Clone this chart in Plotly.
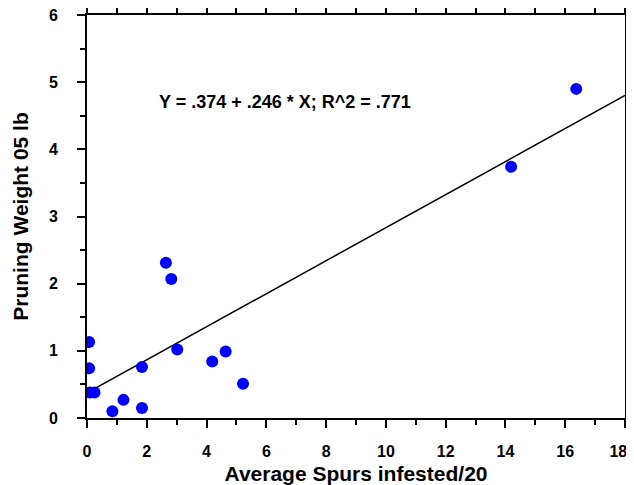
import plotly.graph_objects as go

spurs = [0.07, 0.07, 0.1, 0.25, 0.85, 1.22, 1.84, 1.84, 2.64, 2.82, 3.02, 4.19, 4.64, 5.22, 14.19, 16.37]
weight = [1.13, 0.74, 0.38, 0.38, 0.10, 0.27, 0.15, 0.76, 2.31, 2.07, 1.02, 0.84, 0.99, 0.51, 3.74, 4.90]
intercept = 0.374
slope = 0.246
fit_x = [0, 18]
fit_y = [intercept + slope * v for v in fit_x]
equation = "Y = .374 + .246 * X; R^2 = .771"
x_ticks = list(range(0, 19, 2))
y_ticks = list(range(0, 7))

font = "Liberation Sans, Arial, sans-serif"

fig = go.Figure()
fig.add_trace(go.Scatter(x=fit_x, y=fit_y, mode="lines",
                         line=dict(color="black", width=1.5), showlegend=False))
fig.add_trace(go.Scatter(x=spurs, y=weight, mode="markers",
                         marker=dict(color="#0000ff", size=12), showlegend=False))

fig.add_annotation(x=6.62, y=4.71, text="<b>" + equation + "</b>", showarrow=False,
                   font=dict(family=font, size=18, color="black"))

axis_common = dict(showline=True, linecolor="black", linewidth=2, mirror="allticks",
                   ticks="outside", ticklen=8, tickwidth=1.5, tickcolor="black",
                   showgrid=False, zeroline=False, automargin=False,
                   ticklabeloverflow="allow",
                   tickfont=dict(family=font, size=16, color="black"))

# last x label nudged left (as in the reference) so it stays inside the page
x_text = ["<b>%d</b>" % v for v in x_ticks]
x_text[-1] = "<b>%d</b>&nbsp;&nbsp;&nbsp;" % x_ticks[-1]

fig.update_xaxes(range=[0, 18], tickvals=x_ticks, ticktext=x_text,
                 ticklabelstandoff=10,
                 minor=dict(ticks="outside", ticklen=5, tickwidth=1.5, tickcolor="black", dtick=1, showgrid=False),
                 title=dict(text="<b>Average Spurs infested/20</b>", font=dict(family=font, size=21, color="black"), standoff=7),
                 **axis_common)
fig.update_yaxes(range=[0, 6], tickvals=y_ticks,
                 ticktext=["<b>%d</b>" % v for v in y_ticks],
                 ticklabelstandoff=16,
                 minor=dict(ticks="outside", ticklen=5, tickwidth=1.5, tickcolor="black", dtick=0.5, showgrid=False),
                 title=dict(text="<b>Pruning Weight 05 lb</b>", font=dict(family=font, size=21, color="black"), standoff=15),
                 **axis_common)

# page body adds an 8px offset; compensate so the plot area lands at x 87-625, y 15-418
fig.update_layout(width=626, height=477, margin=dict(l=79, r=9, t=7, b=67),
                  plot_bgcolor="white", paper_bgcolor="white")

fig.write_html("out.html")
